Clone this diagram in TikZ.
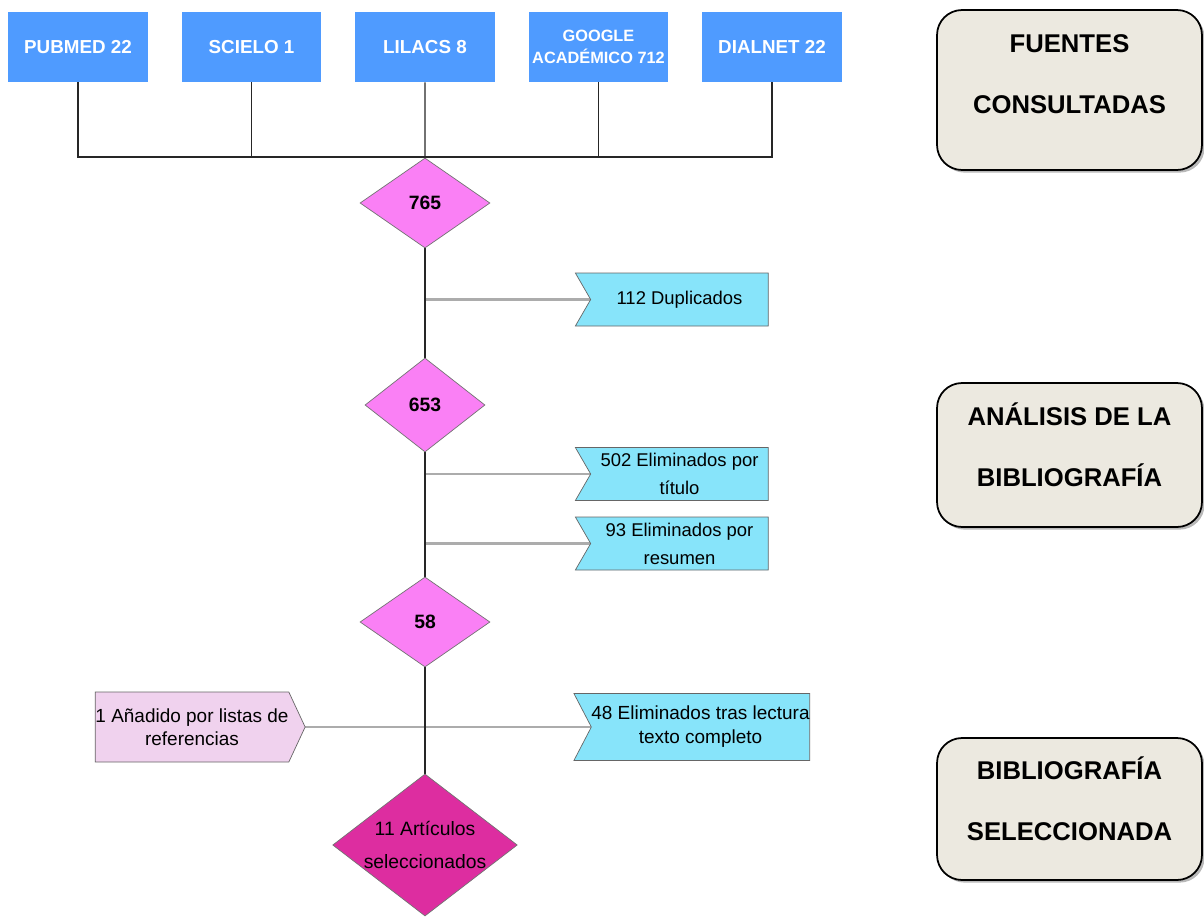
\documentclass[tikz,border=0pt]{standalone}
\usepackage{fontspec}
\setmainfont{Liberation Sans}
\usepackage{tikz}
\usetikzlibrary{shadows,arrows,positioning,shapes.geometric,shapes.symbols,calc}
\pgfdeclarelayer{background}
\pgfsetlayers{background,main}
\definecolor{azul}{RGB}{79,155,255}
\definecolor{rosa}{RGB}{250,128,245}
\definecolor{celeste}{RGB}{135,228,250}
\definecolor{lila}{RGB}{240,210,238}
\definecolor{fucsia}{RGB}{221,45,160}
\definecolor{beige}{RGB}{236,233,224}
\tikzstyle{fuente}=[fill=azul, text=white, font=\bfseries\fontsize{10.7}{12.5}\selectfont,
minimum width=2.8cm, minimum height=1.4cm, inner sep=0pt, align=center]
\tikzstyle{filtro}=[diamond, draw=black!55, fill=rosa, font=\bfseries\fontsize{11}{13}\selectfont,
minimum width=2.6cm, minimum height=1.8cm, inner sep=0pt]
\tikzstyle{final}=[fill=fucsia, font=\fontsize{11}{19}\selectfont, align=center, aspect=1.3]
\tikzstyle{descarte}=[signal, signal to=nowhere, signal from=west, signal pointer angle=120,
draw=black!60, fill=celeste, minimum width=3.86cm, minimum height=1.06cm, inner sep=0pt,
align=center, font=\fontsize{10.5}{15.9}\selectfont]
\tikzstyle{anadido}=[signal to=east, signal from=nowhere, signal pointer angle=130, fill=lila,
minimum width=4.2cm, minimum height=1.4cm, font=\fontsize{10.8}{13}\selectfont]
\tikzstyle{fase}=[draw, line width=1pt, fill=beige, rounded corners=0.5cm, minimum width=5.3cm,
align=center, font=\bfseries\fontsize{14.6}{35}\selectfont,
drop shadow={shadow xshift=1.5pt, shadow yshift=-1.5pt, fill=black!55}]
\tikzstyle{line}=[draw, black!85, line width=0.7pt]
\tikzstyle{rama}=[draw, gray!65, line width=1.4pt]
\newcommand{\fuente}[3]{node (#2)[fuente,#1]{#3}}
\newcommand{\filtro}[3]{node (#2)[filtro,#1]{#3}}
\newcommand{\descarte}[3]{node (#2)[descarte,#1]{#3}}
\newcommand{\fase}[3]{node (#2)[fase,#1]{#3}}
\begin{document}
\begin{tikzpicture}[x=0.02cm,y=-0.02cm]
		\useasboundingbox (0,0) rectangle (1204,920);
		
		% Fuentes consultadas
		\path (78,47) \fuente{}{pubmed}{PUBMED 22};
		\path (pubmed)+(173.5,0) \fuente{}{scielo}{SCIELO 1};
		\path (scielo)+(173.5,0) \fuente{}{lilacs}{LILACS 8};
		\path (lilacs)+(173.5,0) \fuente{font=\bfseries\fontsize{9.3}{12.5}\selectfont}{google}{GOOGLE\\ACADÉMICO 712};
		\path (google)+(173.5,0) \fuente{}{dialnet}{DIALNET 22};
		\coordinate (bus) at (425,157);
		
		% Filtros
		\path (425,203) \filtro{}{d765}{765};
		\path (d765)+(0,202) \filtro{minimum width=2.4cm, minimum height=1.88cm}{d653}{653};
		\path (d653)+(0,217) \filtro{}{d58}{58};
		\path (d58)+(0,223) \filtro{final}{d11}{11 Artículos\\seleccionados};
		
		% Descartes
		\path (679.5,299.5) \descarte{}{dup}{112 Duplicados};
		\path (dup)+(0,174.5) \descarte{}{tit}{502 Eliminados por\\título};
		\path (tit)+(0,69.5) \descarte{}{res}{93 Eliminados por\\resumen};
		\path (700.5,727) \descarte{minimum width=4.66cm, minimum height=1.34cm, signal pointer angle=125,
		font=\fontsize{10.8}{13.6}\selectfont}{r48}{48 Eliminados tras lectura\\texto completo};
		\path (192,727) \descarte{anadido}{add}{1 Añadido por listas de\\referencias};
		
		% Fases
		\path (1069.5,90) \fase{minimum height=3.2cm}{fuentes}{FUENTES\\CONSULTADAS\rule[-18pt]{0pt}{0pt}};
		\path (1069.5,455) \fase{minimum height=2.88cm}{analisis}{ANÁLISIS DE LA\\BIBLIOGRAFÍA\rule[-12pt]{0pt}{0pt}};
		\path (1069.5,809) \fase{minimum height=2.84cm}{seleccion}{BIBLIOGRAFÍA\\SELECCIONADA\rule[-12pt]{0pt}{0pt}};
		
		% Conectores
		\begin{pgfonlayer}{background}
		\path [rama] (d765.south |- dup) -- (dup.center);
		\path [rama] (d653.south |- tit) -- (tit.center);
		\path [rama] (d653.south |- res) -- (res.center);
		\path [rama] (add.center) -- (r48.center);
		\path [line] (pubmed.south) |- (bus) -| (dialnet.south);
		\path [line] (scielo.south) -- (scielo.south |- bus);
		\path [line] (google.south) -- (google.south |- bus);
		\path [line] (lilacs.south) -- (d765.north);
		\path [line] (d765.south) -- (d653.north);
		\path [line] (d653.south) -- (d58.north);
		\path [line] (d58.south) -- (d11.north);
		\end{pgfonlayer}
\end{tikzpicture}
\end{document}
